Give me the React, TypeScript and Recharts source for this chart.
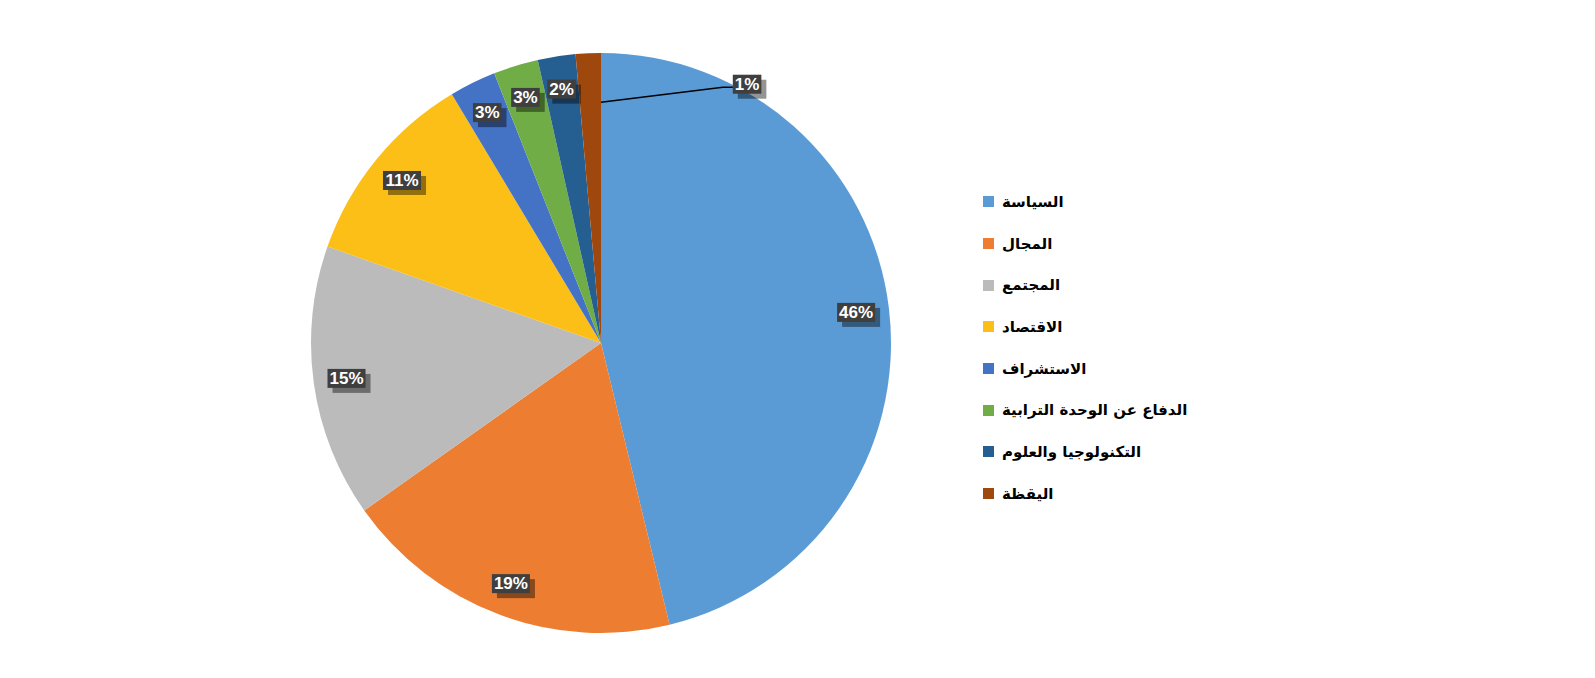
import React from 'react';
import { PieChart, Pie, Cell } from 'recharts';

const CATEGORIES = [
  'السياسة',
  'المجال',
  'المجتمع',
  'الاقتصاد',
  'الاستشراف',
  'الدفاع عن الوحدة الترابية',
  'التكنولوجيا والعلوم',
  'اليقظة',
];
const SHARES = [46.2, 19.0, 15.2, 11.0, 2.6, 2.5, 2.1, 1.4];
const COLORS = ['#5B9BD5', '#ED7D31', '#BBBBBB', '#FCBF17', '#4472C4', '#70AD47', '#255E91', '#9E480E'];

const data = CATEGORIES.map((name, i) => ({ name, value: SHARES[i] }));

const RAD = Math.PI / 180;
const LABEL_FONT = '"Liberation Sans", Arial, sans-serif';

// rough width estimate for bold label text
const textWidth = (s: string, size: number) =>
  s.split('').reduce((w, ch) => w + (ch === '%' ? 0.889 : 0.556), 0) * size;

const LabelBox = ({ x, y, text }: { x: number; y: number; text: string }) => {
  const w = textWidth(text, 17) + 4;
  const h = 19;
  return (
    <g>
      <rect x={x - w / 2 + 5} y={y - h / 2 + 5} width={w} height={h} fill="#000" fillOpacity={0.42} />
      <rect x={x - w / 2} y={y - h / 2} width={w} height={h} fill="#3F3F3F" />
      <text
        x={x}
        y={y + 1}
        textAnchor="middle"
        dominantBaseline="middle"
        fill="#fff"
        fontFamily={LABEL_FONT}
        fontWeight="bold"
        fontSize={17}
      >
        {text}
      </text>
    </g>
  );
};

const renderLabel = (props: any) => {
  const { cx, cy, midAngle, endAngle, outerRadius, percent, index } = props;
  const text = `${Math.round(percent * 100)}%`;
  if (percent < 0.015) {
    // small slice: label pulled outside to the right with a leader line
    const r0 = outerRadius * 0.83;
    const sx = cx + r0 * Math.cos(-endAngle * RAD);
    const sy = cy + r0 * Math.sin(-endAngle * RAD);
    const ex = cx + outerRadius * 0.42;
    const ey = cy - outerRadius * 0.882;
    const w = textWidth(text, 17) + 4;
    return (
      <g key={`lbl-${index}`}>
        <polyline points={`${sx},${sy} ${ex},${ey} ${ex + 10},${ey}`} fill="none" stroke="#000" strokeWidth={1.5} />
        <LabelBox x={ex + 10 + w / 2} y={ey - 3} text={text} />
      </g>
    );
  }
  const r = outerRadius * 0.886;
  const x = cx + r * Math.cos(-midAngle * RAD);
  const y = cy + r * Math.sin(-midAngle * RAD);
  return <LabelBox key={`lbl-${index}`} x={x} y={y} text={text} />;
};

const LegendList = () => (
  <ul style={{ position: 'absolute', left: 983, top: 181, listStyle: 'none', margin: 0, padding: 0 }}>
    {CATEGORIES.map((name, i) => (
      <li key={`leg-${i}`} style={{ height: 41.7, display: 'flex', alignItems: 'center' }}>
        <span style={{ display: 'inline-block', width: 11, height: 11, background: COLORS[i], marginRight: 8 }} />
        <span
          style={{
            fontFamily: '"DejaVu Sans", sans-serif',
            fontWeight: 'bold',
            fontSize: 15,
            color: '#000',
            direction: 'rtl',
          }}
        >
          {name}
        </span>
      </li>
    ))}
  </ul>
);

const App: React.FC = () => {
  return (
    <div style={{ position: 'absolute', left: 0, top: 0, width: 1595, height: 678, background: '#fff' }}>
      <PieChart width={1595} height={678} margin={{ top: 0, right: 0, bottom: 0, left: 0 }}>
        <Pie
          data={data}
          dataKey="value"
          nameKey="name"
          cx={601}
          cy={343}
          outerRadius={290}
          startAngle={90}
          endAngle={-270}
          stroke="none"
          labelLine={false}
          label={renderLabel}
          isAnimationActive={false}
        >
          {data.map((entry, index) => (
            <Cell key={`cell-${index}`} fill={COLORS[index]} />
          ))}
        </Pie>
      </PieChart>
      <LegendList />
    </div>
  );
};

export default App;
